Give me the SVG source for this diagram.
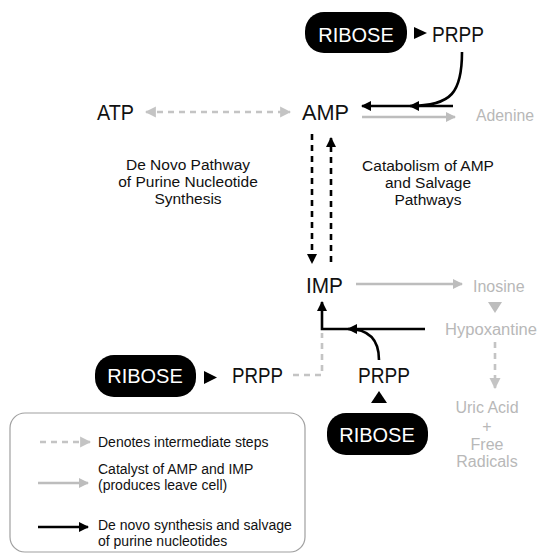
<svg xmlns="http://www.w3.org/2000/svg" width="541" height="556" viewBox="0 0 541 556">
<style>
text{font-family:"Liberation Sans",Arial,sans-serif}
.big{font-size:22px;fill:#111}
.pilltxt{font-size:20px;fill:#fff;text-anchor:middle}
.mid{font-size:15.5px;fill:#111;text-anchor:middle}
.gray{font-size:16px;fill:#b8b8b8}
.leg{font-size:14px;fill:#111}
.pill{fill:#000}
.blk{stroke:#000;stroke-width:2.6;fill:none}
.bdash{stroke:#000;stroke-width:2.6;fill:none;stroke-dasharray:6 5}
.gry{stroke:#bdbdbd;stroke-width:2.6;fill:none}
.gdash{stroke:#c4c4c4;stroke-width:2.6;fill:none;stroke-dasharray:6 5}
</style>
<defs>
<marker id="hb" viewBox="0 0 10 10" refX="9" refY="5" markerWidth="11" markerHeight="10" markerUnits="userSpaceOnUse" orient="auto-start-reverse"><path d="M0,0 L10,5 L0,10z" fill="#000"/></marker>
<marker id="hg" viewBox="0 0 10 10" refX="9" refY="5" markerWidth="10" markerHeight="11" markerUnits="userSpaceOnUse" orient="auto-start-reverse"><path d="M0,0 L10,5 L0,10z" fill="#bdbdbd"/></marker>
<marker id="hg2" viewBox="0 0 10 10" refX="9" refY="5" markerWidth="11" markerHeight="12" markerUnits="userSpaceOnUse" orient="auto-start-reverse"><path d="M0,0 L10,5 L0,10z" fill="#c4c4c4"/></marker>
</defs>

<g id="connectors">
  <path class="gdash" d="M146,112 L290,112" marker-start="url(#hg2)" marker-end="url(#hg2)"/>
  <polygon points="414,27 427,33 414,39" fill="#000"/>
  <path class="blk" d="M453,106 L362,106" marker-end="url(#hb)"/>
  <path class="blk" d="M462,52 C462,92 452,106 410,106" marker-end="url(#hb)"/>
  <path class="gry" d="M362,117 L455,117" marker-end="url(#hg)"/>
  <path class="bdash" d="M312,134 L312,263" marker-end="url(#hb)"/>
  <path class="bdash" d="M331,262 L331,138" marker-end="url(#hb)"/>
  <path class="gry" d="M356,284 L462,284" marker-end="url(#hg)"/>
  <polygon points="488,302 502,302 495,313" fill="#bdbdbd"/>
  <path class="gdash" d="M495,342 L495,388" marker-end="url(#hg2)"/>
  <path class="blk" d="M425,329 L322,329 L322,302" marker-end="url(#hb)"/>
  <path class="blk" d="M379,360 C379,341 370,329 348,329" marker-end="url(#hb)"/>
  <path class="gdash" d="M293,375 L322,375 L322,333"/>
  <polygon points="204,371 217,377.5 204,384" fill="#000"/>
  <polygon points="371,403 387,403 379,391" fill="#000"/>
</g>

<g id="ribose-top"><rect class="pill" x="305" y="12" width="102" height="41" rx="19"/><text class="pilltxt" x="356" y="42">RIBOSE</text></g>
<g id="prpp-top"><text class="big" x="432" y="42" textLength="52" lengthAdjust="spacingAndGlyphs">PRPP</text></g>
<g id="atp"><text class="big" x="97" y="120" textLength="37" lengthAdjust="spacingAndGlyphs">ATP</text></g>
<g id="amp"><text class="big" x="302" y="120" textLength="47" lengthAdjust="spacingAndGlyphs">AMP</text></g>
<g id="adenine"><text class="gray" x="476" y="121" textLength="58" lengthAdjust="spacingAndGlyphs">Adenine</text></g>
<g id="label-denovo"><text class="mid" x="188" y="170">De Novo Pathway</text><text class="mid" x="188" y="187">of Purine Nucleotide</text><text class="mid" x="188" y="204">Synthesis</text></g>
<g id="label-catabolism"><text class="mid" x="428" y="171">Catabolism of AMP</text><text class="mid" x="428" y="188">and Salvage</text><text class="mid" x="428" y="205">Pathways</text></g>
<g id="imp"><text class="big" x="306" y="293" textLength="37" lengthAdjust="spacingAndGlyphs">IMP</text></g>
<g id="inosine"><text class="gray" x="473" y="292">Inosine</text></g>
<g id="hypoxantine"><text class="gray" x="445" y="335" textLength="92" lengthAdjust="spacingAndGlyphs">Hypoxantine</text></g>
<g id="ribose-left"><rect class="pill" x="95" y="355" width="101" height="42" rx="19"/><text class="pilltxt" x="145" y="383">RIBOSE</text></g>
<g id="prpp-left"><text class="big" x="232" y="383" textLength="51" lengthAdjust="spacingAndGlyphs">PRPP</text></g>
<g id="prpp-bottom"><text class="big" x="358" y="383" textLength="52" lengthAdjust="spacingAndGlyphs">PRPP</text></g>
<g id="ribose-bottom"><rect class="pill" x="327" y="413" width="101" height="42" rx="19"/><text class="pilltxt" x="377" y="442">RIBOSE</text></g>
<g id="uric-acid"><text class="gray" x="487" y="413" text-anchor="middle">Uric Acid</text><text class="gray" x="487" y="432" text-anchor="middle">+</text><text class="gray" x="487" y="450" text-anchor="middle">Free</text><text class="gray" x="487" y="467" text-anchor="middle">Radicals</text></g>

<g id="legend">
  <rect x="10" y="413" width="295" height="139" rx="15" fill="none" stroke="#a0a0a0" stroke-width="1.2"/>
  <path class="gdash" d="M40,442 L90,442" marker-end="url(#hg2)"/>
  <text class="leg" x="98" y="447">Denotes intermediate steps</text>
  <path class="gry" d="M38,483 L88,483" marker-end="url(#hg)"/>
  <text class="leg" x="98" y="474">Catalyst of AMP and IMP</text>
  <text class="leg" x="98" y="490">(produces leave cell)</text>
  <path class="blk" d="M38,527 L88,527" marker-end="url(#hb)"/>
  <text class="leg" x="98" y="530">De novo synthesis and salvage</text>
  <text class="leg" x="98" y="546">of purine nucleotides</text>
</g>
</svg>
